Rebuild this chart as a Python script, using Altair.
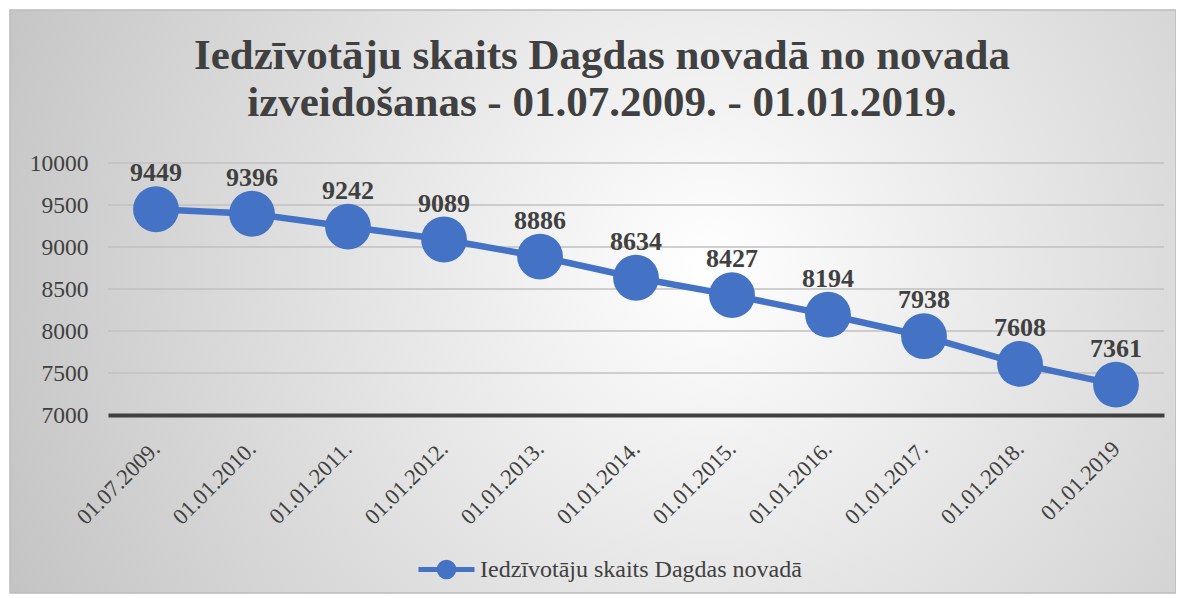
import altair as alt
import pandas as pd

dates = ["01.07.2009.", "01.01.2010.", "01.01.2011.", "01.01.2012.", "01.01.2013.",
         "01.01.2014.", "01.01.2015.", "01.01.2016.", "01.01.2017.", "01.01.2018.", "01.01.2019"]
values = [9449, 9396, 9242, 9089, 8886, 8634, 8427, 8194, 7938, 7608, 7361]
series_name = "Iedzīvotāju skaits Dagdas novadā"
y_ticks = [7000, 7500, 8000, 8500, 9000, 9500, 10000]
title_lines = ["Iedzīvotāju skaits Dagdas novadā no novada",
               "izveidošanas - 01.07.2009. - 01.01.2019."]

df = pd.DataFrame({"date": dates, "value": values, "series": [series_name] * len(dates)})
grid_df = pd.DataFrame({"value": y_ticks[1:]})

W, H = 1056, 252
BLUE = "#4472C4"
TXT = "#404040"
SERIF = "Liberation Serif"
LEGEND_PATH = "M-1,0L1,0M0.26,0A0.26,0.26,0,1,1,-0.26,0A0.26,0.26,0,1,1,0.26,0Z"

yscale = alt.Scale(domain=[7000, 10000], nice=False, zero=False)
y_axis = alt.Axis(title=None, values=y_ticks, format="d", labelFont=SERIF,
                  labelFontSize=23.5, labelColor=TXT, domain=False, ticks=False,
                  grid=False, labelPadding=20, zindex=1)

x = alt.X("date:N", sort=dates,
          scale=alt.Scale(type="point", padding=0.5),
          axis=alt.Axis(title=None, labelAngle=-45, labelFont=SERIF, labelFontSize=22.5,
                        labelColor=TXT, domainColor=TXT, domainWidth=4, ticks=False,
                        grid=False, labelPadding=22, labelOffset=-8, zindex=1))
y = alt.Y("value:Q", scale=yscale, axis=y_axis)

bg = alt.Chart(alt.Data(values=[{"k": 0}])).mark_rect(
    fill=alt.RadialGradient(
        gradient="radial",
        stops=[alt.GradientStop(color="#ffffff", offset=0),
               alt.GradientStop(color="#c2c2c2", offset=1)],
        x1=0.6, y1=0.47, r1=0, x2=0.6, y2=0.47, r2=0.68),
    stroke="#bcbcbc", strokeWidth=1.5
).encode(x=alt.value(-98), x2=alt.value(1068), y=alt.value(-153), y2=alt.value(430))

grid = alt.Chart(grid_df).mark_rule(color="#c0c0c0", strokeWidth=1.3).encode(
    y=y, x=alt.value(0), x2=alt.value(W))

base = alt.Chart(df)

line = base.mark_line(strokeWidth=6.5).encode(
    x=x, y=y,
    color=alt.Color("series:N", scale=alt.Scale(range=[BLUE]),
                    legend=alt.Legend(title=None, orient="none", legendX=308, legendY=376,
                                      symbolType=LEGEND_PATH, symbolSize=3136,
                                      symbolStrokeWidth=5, symbolFillColor=BLUE,
                                      symbolStrokeColor=BLUE, labelFont=SERIF,
                                      labelFontSize=24, labelColor=TXT, labelOffset=3,
                                      labelLimit=600)))

points = base.mark_circle(size=2100, color=BLUE, opacity=1).encode(x=x, y=y)

labels = base.mark_text(font=SERIF, fontSize=26, fontWeight="bold", color=TXT,
                        dy=-28, baseline="alphabetic").encode(
    x=x, y=y, text=alt.Text("value:Q", format="d"))

chart = alt.layer(bg, grid, line, points, labels).properties(
    width=W, height=H,
    autosize="none",
    padding={"left": 100, "top": 155, "right": 12, "bottom": 180},
    background="white",
    title=alt.TitleParams(text=title_lines, font=SERIF, fontSize=43, fontWeight="bold",
                          color=TXT, anchor="middle", frame="group", dx=-34, offset=-116,
                          lineHeight=47),
).configure_view(strokeWidth=0)

chart.save("out.html", embed_options={"renderer": "svg", "actions": False})
